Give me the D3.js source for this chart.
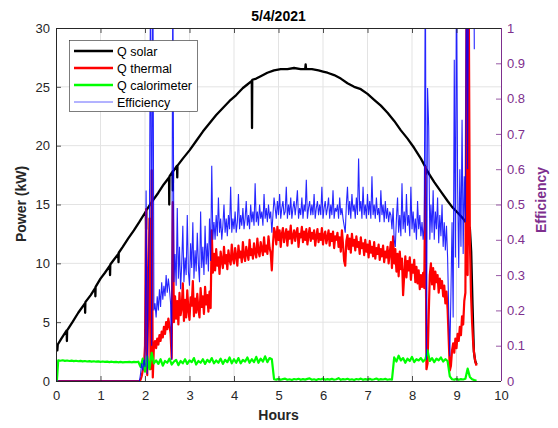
<!DOCTYPE html>
<html>
<head>
<meta charset="utf-8">
<script src="https://cdn.jsdelivr.net/npm/d3@7"></script>
<style>
  html, body { margin: 0; padding: 0; background: #fff; }
  svg { display: block; font-family: "Liberation Sans", Arial, Helvetica, sans-serif; }
</style>
</head>
<body>
<svg id="chart" width="558" height="428"></svg>
<script>
// ---- Data: logged on 5/4/2021 ----
const titleText = "5/4/2021";
const hourTicks = [0, 1, 2, 3, 4, 5, 6, 7, 8, 9, 10];
const powerTicks = [0, 5, 10, 15, 20, 25, 30];
const effTicks = [0, 0.1, 0.2, 0.3, 0.4, 0.5, 0.6, 0.7, 0.8, 0.9, 1];
const seriesNames = ["Q solar", "Q thermal", "Q calorimeter", "Efficiency"];

// Q solar (kW), hours / value pairs
const solarHours = [0, 0.03, 0.04, 0.12, 0.24, 0.245, 0.25, 0.37, 0.5, 0.65, 0.655, 0.66, 0.78, 0.88,
  0.885, 0.89, 1.0, 1.1, 1.21, 1.215, 1.22, 1.3, 1.4, 1.405, 1.41, 1.5, 1.62, 1.75, 1.87, 2.0, 2.02,
  2.025, 2.03, 2.15, 2.3, 2.42, 2.54, 2.545, 2.55, 2.62, 2.625, 2.63, 2.72, 2.725, 2.73, 2.85, 3.0,
  3.15, 3.3, 3.45, 3.6, 3.75, 3.9, 4.05, 4.2, 4.3, 4.4, 4.405, 4.41, 4.5, 4.6, 4.75, 4.9, 5.05, 5.2,
  5.35, 5.5, 5.6, 5.61, 5.62, 5.75, 5.9, 6.0, 6.1, 6.25, 6.4, 6.55, 6.7, 6.85, 7.0, 7.15, 7.3, 7.45,
  7.6, 7.75, 7.9, 8.05, 8.2, 8.3, 8.31, 8.32, 8.4, 8.5, 8.65, 8.8, 8.9, 9.0, 9.15, 9.3, 9.33, 9.36,
  9.39, 9.42, 9.45];
const solarKW = [3.0, 2.6, 3.1, 3.6, 4.3, 3.4, 4.3, 5.0, 5.8, 6.6, 5.8, 6.7, 7.3, 7.9,
  7.2, 8.0, 8.7, 9.2, 9.8, 9.0, 9.9, 10.3, 10.8, 10.1, 10.9, 11.4, 12.1, 12.8, 13.5, 14.3, 14.4,
  12.9, 14.5, 15.2, 16.0, 16.7, 17.3, 15.0, 17.4, 17.8, 16.2, 17.8, 18.3, 17.3, 18.3, 18.9, 19.6,
  20.4, 21.2, 21.9, 22.6, 23.2, 23.8, 24.3, 24.9, 25.2, 25.5, 21.5, 25.6, 25.7, 25.9, 26.2, 26.4, 26.5, 26.5,
  26.6, 26.5, 26.5, 26.9, 26.5, 26.5, 26.4, 26.3, 26.2, 26.0, 25.7, 25.3, 25.0, 24.8, 24.4, 23.9, 23.4, 22.8,
  22.1, 21.3, 20.6, 19.8, 18.9, 18.2, 17.6, 18.0, 17.5, 16.9, 16.1, 15.3, 14.8, 14.4, 13.8, 13.0, 11.0, 6.5,
  2.5, 1.7, 1.4];

// Fast-logged channels: samples every 0.025 h starting at 1.9 h
const fastStart = 1.9;
const fastStep = 0.025;

// Q thermal (kW): idle before 1.9 h, then sampled
const thermalLeadHours = [0, 1.875];
const thermalLeadKW = [0, 0];
const thermalKW = [
  0.1, 0.4, 0.9, 1.2,
  3.0, 14.6, 0.5, 7.5, 13.8, 1.0, 17.9, 0.3, 2.9,
  3.4, 2.8, 3.6, 3.1, 3.9, 3.4, 4.2, 3.7, 4.6, 4.0, 5.0, 4.4, 5.3, 4.7, 4.0,
  1.9, 15.2, 5.0,
  7.2, 5.3, 6.8, 4.8, 7.5, 5.6, 6.2, 8.3, 5.1, 6.9, 5.4, 7.7, 6.0, 5.2, 7.1, 6.4, 8.5, 5.5, 7.0, 5.8,
  7.4, 6.1, 5.4, 7.9, 6.3, 7.2, 5.7, 8.0, 6.5, 7.3, 5.9, 7.6, 6.2,
  12.8, 9.2,
  10.8, 9.4, 11.2, 9.8, 10.5, 9.1, 11.0, 10.2, 9.6, 11.4, 10.0, 10.7, 9.5, 11.1, 10.3, 9.9, 11.6, 10.4,
  10.0, 11.3, 10.6, 9.8, 11.5, 10.5, 11.0, 10.1, 11.8, 10.6, 10.2, 11.4, 10.8, 10.3, 12.0, 10.7, 11.2,
  10.4, 11.7, 10.9, 10.5, 12.1, 11.0, 10.6, 11.8, 11.2, 10.7, 12.2, 11.0, 11.5, 10.8, 12.3, 11.3, 10.9,
  9.4, 11.6, 13.0,
  12.6, 11.6, 13.1, 12.0, 12.8, 11.4, 12.5, 13.0, 11.8, 12.4, 12.9, 11.5, 12.7, 12.1, 13.2, 11.7, 12.3,
  12.8, 11.9, 12.6, 13.0, 11.4, 12.5, 12.2, 13.1, 11.8, 12.7, 12.0, 12.9, 11.6, 12.4, 13.0, 11.9, 12.6,
  12.1, 12.8, 11.5, 12.3, 12.9, 11.8, 12.5, 12.0, 13.0, 11.6, 12.4, 12.7, 11.7, 12.2, 12.8, 11.5, 12.5,
  11.9, 12.7, 11.3, 12.3, 12.0,
  12.6, 11.4, 12.2, 11.0, 12.8, 11.6, 10.2, 9.8, 11.9, 12.4, 11.2, 12.1, 10.9, 12.5, 11.5, 12.0, 11.1,
  12.3, 11.4, 11.8, 10.8, 12.2, 11.3, 11.7, 10.7, 12.0, 11.0, 11.6, 10.5, 11.9, 10.9, 11.4, 10.6, 11.8,
  10.4, 11.3, 10.8, 11.6, 10.3, 11.2, 10.6, 11.5, 10.1, 11.0, 10.5, 11.4, 10.0, 10.9,
  11.8, 9.6, 12.3, 10.0, 11.2, 9.3, 10.8, 8.9, 11.0, 9.5, 10.4, 7.3, 9.0, 10.6, 8.8, 10.2, 9.4, 10.5,
  8.6, 9.9, 9.2, 10.3, 8.4, 9.7, 8.3, 9.4, 7.8, 9.0, 8.0, 9.2, 7.9,
  18.2, 1.0, 1.5, 5.5, 9.0,
  10.0, 8.2, 9.6, 7.8, 9.3, 8.4, 9.0, 7.5, 8.7, 7.9, 8.5, 7.2, 8.1, 6.6, 7.6, 6.1,
  3.5, 0.9, 1.3, 2.6,
  3.2, 2.4, 3.6, 2.8, 4.0, 3.4, 4.6, 3.9, 5.5, 4.8, 6.8,
  7.5, 32, 9.0, 33, 12.0, 7.5, 5.0, 3.2, 2.2, 1.6, 1.3
];

// Efficiency (-): zero before 1.9 h, then sampled
const effLeadHours = [0, 0.01, 1.875];
const effLead = [0.06, 0, 0];
const efficiency = [
  0.02, 0.05, 0.03, 0.06,
  0.04, 0.54, 0.02, 0.30, 0.45, 1.2, 0.10, 1.3, 0.20,
  0.22, 0.18, 0.24, 0.20, 0.26, 0.21, 0.28, 0.23, 0.27, 0.24, 0.30, 0.25, 0.29, 0.26, 0.22,
  0.06, 1.2, 0.28,
  0.36, 0.27, 0.49, 0.29, 0.38, 0.26, 0.33, 0.44, 0.28, 0.35, 0.30, 0.47, 0.31, 0.27, 0.39, 0.32, 0.45,
  0.29, 0.37, 0.31, 0.42, 0.33, 0.28, 0.48, 0.32, 0.38, 0.30, 0.44, 0.33, 0.39, 0.31, 0.46, 0.34,
  0.61, 0.40,
  0.45, 0.40, 0.47, 0.41, 0.52, 0.42, 0.46, 0.40, 0.44, 0.50, 0.42, 0.46, 0.41, 0.47, 0.43, 0.55, 0.42,
  0.46, 0.43, 0.48, 0.42, 0.45, 0.53, 0.43, 0.47, 0.44, 0.49, 0.43, 0.46, 0.51, 0.44, 0.47, 0.43, 0.50,
  0.45, 0.48, 0.44, 0.56, 0.45, 0.48, 0.44, 0.50, 0.46, 0.48, 0.44, 0.53, 0.46, 0.49, 0.45, 0.50, 0.46, 0.48,
  0.42, 0.47, 0.52,
  0.49, 0.46, 0.51, 0.47, 0.53, 0.46, 0.49, 0.51, 0.47, 0.48, 0.55, 0.46, 0.50, 0.47, 0.52, 0.46, 0.49,
  0.51, 0.47, 0.50, 0.54, 0.46, 0.49, 0.47, 0.52, 0.46, 0.50, 0.48, 0.57, 0.46, 0.49, 0.51, 0.47, 0.50,
  0.47, 0.53, 0.46, 0.49, 0.51, 0.47, 0.50, 0.47, 0.55, 0.46, 0.49, 0.51, 0.47, 0.49, 0.52, 0.46, 0.50,
  0.47, 0.54, 0.46, 0.49, 0.48,
  0.50, 0.46, 0.52, 0.47, 0.49, 0.46, 0.44, 0.42, 0.50, 0.55, 0.47, 0.51, 0.46, 0.53, 0.48, 0.50, 0.46,
  0.52, 0.47, 0.63, 0.48, 0.51, 0.46, 0.55, 0.47, 0.50, 0.46, 0.53, 0.47, 0.51, 0.46, 0.58, 0.47, 0.50,
  0.46, 0.52, 0.47, 0.49, 0.45, 0.54, 0.47, 0.50, 0.45, 0.51, 0.46, 0.49, 0.45, 0.48,
  0.47, 0.43, 0.49, 0.40, 0.38, 0.46, 0.52, 0.42, 0.47, 0.41, 0.56, 0.43, 0.48, 0.42, 0.53, 0.44, 0.47,
  0.41, 0.55, 0.43, 0.48, 0.42, 0.46, 0.40, 0.51, 0.43, 0.47, 0.41, 0.45, 0.40, 0.44,
  1.2, 0.06, 0.83, 0.72, 0.40,
  0.50, 0.42, 0.54, 0.40, 0.48, 0.43, 0.52, 0.39, 0.47, 0.41, 0.50, 0.38, 0.45, 0.37, 0.44, 0.35,
  0.20, 0.07, 0.25, 0.45,
  0.18, 0.91, 0.35, 1.2, 0.55, 0.32, 0.60, 0.38, 0.74, 0.36, 0.58,
  0.45, 1.3, 0.6, 1.3, 1.4, 1.5, 1.3, 1.6, 0.94
];

// Q calorimeter (kW): samples every 0.05 h starting at 0.05 h
const caloLeadHours = [0, 0.02];
const caloLeadKW = [0, 0];
const caloStart = 0.05;
const caloStep = 0.05;
const caloKW = [
  1.75, 1.72, 1.76, 1.71, 1.74, 1.70, 1.73, 1.69, 1.72, 1.68, 1.71, 1.67, 1.70, 1.66, 1.69, 1.65, 1.68,
  1.64, 1.67, 1.63, 1.66, 1.62, 1.65, 1.61, 1.64, 1.60, 1.63, 1.59, 1.62, 1.58, 1.61, 1.60, 1.63, 1.59,
  1.62, 1.60, 1.64,
  1.2, 1.9, 0.8, 2.1, 1.0, 2.4, 1.5,
  1.75, 1.45, 1.85, 1.30, 1.70, 1.55, 1.90, 1.40, 1.65, 1.80, 1.35, 1.70, 1.50, 1.85, 1.45, 1.75, 1.60,
  1.95, 1.40, 1.70, 1.55, 1.85, 1.45, 1.80, 1.60, 1.95, 1.50, 1.75, 1.55, 1.90, 1.45, 1.80, 1.60, 2.00,
  1.50, 1.85, 1.55, 1.95, 1.50, 1.80, 1.65, 2.00, 1.55, 1.85, 1.60, 2.05, 1.55, 1.90, 1.65, 2.10, 1.60, 1.95,
  1.85, 0.15,
  0.12, 0.18, 0.10, 0.16, 0.20, 0.11, 0.15, 0.09, 0.17, 0.13, 0.19, 0.10, 0.16, 0.12, 0.18, 0.22, 0.11,
  0.15, 0.09, 0.17, 0.13, 0.20, 0.10, 0.16, 0.12, 0.18, 0.11, 0.15, 0.24, 0.10, 0.16, 0.13, 0.19, 0.11,
  0.15, 0.09, 0.17, 0.13, 0.20, 0.10, 0.16, 0.12, 0.18, 0.11, 0.15, 0.21, 0.10, 0.16, 0.13, 0.18, 0.11,
  0.15, 0.12,
  2.00, 1.65, 2.15, 1.75, 1.95, 1.55, 1.90, 1.70, 2.05, 1.60, 1.85, 1.75, 1.95, 1.65, 1.85, 2.60, 1.70,
  1.95, 1.60, 1.90, 1.75, 2.00, 1.65, 1.85, 1.70,
  0.4, 0.15,
  0.12, 0.18, 0.10, 0.16, 0.13, 0.19, 1.05, 0.35, 0.15, 0.08, 0.02
];

// ---- Layout ----
const W = 558, H = 428;
const plot = { left: 56, right: 501, top: 28, bottom: 381 };
const axisColor = "#262626";
const rightColor = "#7E2F8E";
const gridColor = "#e3e3e3";

const svg = d3.select("#chart");

const x = d3.scaleLinear().domain([0, 10]).range([plot.left, plot.right]);
const yL = d3.scaleLinear().domain([0, 30]).range([plot.bottom, plot.top]);
const yR = d3.scaleLinear().domain([0, 1]).range([plot.bottom, plot.top]);

// assemble [hour, value] samples
const pairs = (hours, vals) => hours.map((h, i) => [h, vals[i]]);
const sampled = (start, step, vals) => vals.map((v, i) => [start + i * step, v]);

const solarPts = pairs(solarHours, solarKW);
const thermalPts = pairs(thermalLeadHours, thermalLeadKW).concat(sampled(fastStart, fastStep, thermalKW));
const effPts = pairs(effLeadHours, effLead).concat(sampled(fastStart, fastStep, efficiency));
const caloPts = pairs(caloLeadHours, caloLeadKW).concat(sampled(caloStart, caloStep, caloKW));

// background
svg.append("rect").attr("width", W).attr("height", H).attr("fill", "#fff");

// grid
const grid = svg.append("g");
grid.selectAll("line.gx").data(hourTicks.slice(1, -1)).join("line")
  .attr("x1", d => x(d)).attr("x2", d => x(d))
  .attr("y1", plot.top).attr("y2", plot.bottom)
  .attr("stroke", gridColor).attr("stroke-width", 1);
grid.selectAll("line.gy").data(powerTicks.slice(1, -1)).join("line")
  .attr("x1", plot.left).attr("x2", plot.right)
  .attr("y1", d => yL(d)).attr("y2", d => yL(d))
  .attr("stroke", gridColor).attr("stroke-width", 1);

// clipping for data lines
svg.append("clipPath").attr("id", "plotClip").append("rect")
  .attr("x", plot.left).attr("y", plot.top)
  .attr("width", plot.right - plot.left).attr("height", plot.bottom - plot.top);

const lineL = d3.line().x(d => x(d[0])).y(d => yL(d[1]));
const lineR = d3.line().x(d => x(d[0])).y(d => yR(d[1]));

const data = svg.append("g").attr("clip-path", "url(#plotClip)");
data.append("path").datum(solarPts).attr("d", lineL)
  .attr("fill", "none").attr("stroke", "#000").attr("stroke-width", 2.3).attr("stroke-linejoin", "round");
data.append("path").datum(thermalPts).attr("d", lineL)
  .attr("fill", "none").attr("stroke", "#ff0000").attr("stroke-width", 2.2).attr("stroke-linejoin", "round");
data.append("path").datum(caloPts).attr("d", lineL)
  .attr("fill", "none").attr("stroke", "#00ff00").attr("stroke-width", 2.2).attr("stroke-linejoin", "round");
data.append("path").datum(effPts).attr("d", lineR)
  .attr("fill", "none").attr("stroke", "#0000ff").attr("stroke-opacity", 0.85).attr("stroke-width", 1.1);

// axes
const fontSize = 13;
const styleAxis = (g, color) => {
  g.select(".domain").remove();
  g.selectAll(".tick line").attr("stroke", color).attr("stroke-width", 0.8);
  g.selectAll(".tick text").attr("fill", color).attr("font-size", fontSize)
    .attr("font-family", "'Liberation Sans', Arial, Helvetica, sans-serif");
};

svg.append("g").attr("transform", `translate(0,${plot.bottom})`)
  .call(d3.axisBottom(x).tickValues(hourTicks).tickSize(-5).tickPadding(10).tickFormat(d3.format("d")))
  .call(g => styleAxis(g, axisColor));
svg.append("g").attr("transform", `translate(0,${plot.top})`)
  .call(d3.axisTop(x).tickValues(hourTicks).tickSize(-5).tickFormat(""))
  .call(g => styleAxis(g, axisColor));
svg.append("g").attr("transform", `translate(${plot.left},0)`)
  .call(d3.axisLeft(yL).tickValues(powerTicks).tickSize(-5).tickPadding(6).tickFormat(d3.format("d")))
  .call(g => styleAxis(g, axisColor));
svg.append("g").attr("transform", `translate(${plot.right},0)`)
  .call(d3.axisRight(yR).tickValues(effTicks).tickSize(-5).tickPadding(6).tickFormat(d => d === 0 || d === 1 ? String(d) : d.toFixed(1)))
  .call(g => styleAxis(g, rightColor));

// box
const box = svg.append("g").attr("stroke-width", 1).attr("shape-rendering", "crispEdges");
box.append("line").attr("x1", plot.left).attr("x2", plot.right).attr("y1", plot.bottom).attr("y2", plot.bottom).attr("stroke", axisColor);
box.append("line").attr("x1", plot.left).attr("x2", plot.right).attr("y1", plot.top).attr("y2", plot.top).attr("stroke", axisColor);
box.append("line").attr("x1", plot.left).attr("x2", plot.left).attr("y1", plot.top).attr("y2", plot.bottom).attr("stroke", axisColor);
box.append("line").attr("x1", plot.right).attr("x2", plot.right).attr("y1", plot.top).attr("y2", plot.bottom).attr("stroke", rightColor);

// title and axis labels
svg.append("text").attr("x", (plot.left + plot.right) / 2).attr("y", 21)
  .attr("text-anchor", "middle").attr("font-weight", "bold").attr("font-size", 14)
  .attr("fill", "#000").text(titleText);
svg.append("text").attr("x", (plot.left + plot.right) / 2).attr("y", 420)
  .attr("text-anchor", "middle").attr("font-weight", "bold").attr("font-size", 14)
  .attr("fill", axisColor).text("Hours");
svg.append("text").attr("transform", "translate(26,204) rotate(-90)")
  .attr("text-anchor", "middle").attr("font-weight", "bold").attr("font-size", 14)
  .attr("fill", axisColor).text("Power (kW)");
svg.append("text").attr("transform", "translate(546,200) rotate(-90)")
  .attr("text-anchor", "middle").attr("font-weight", "bold").attr("font-size", 14)
  .attr("fill", rightColor).text("Efficiency");

// legend
const legendStyles = [
  { color: "#000", width: 2.5, opacity: 1 },
  { color: "#ff0000", width: 2.5, opacity: 1 },
  { color: "#00ff00", width: 2.5, opacity: 1 },
  { color: "#0000ff", width: 1, opacity: 0.6 }
];
const legend = svg.append("g");
legend.append("rect").attr("x", 69.5).attr("y", 40.5).attr("width", 128).attr("height", 71)
  .attr("fill", "#fff").attr("stroke", axisColor).attr("stroke-width", 0.6);
const rows = legend.selectAll("g.row").data(seriesNames).join("g")
  .attr("transform", (d, i) => `translate(0,${51 + i * 17})`);
rows.append("line").attr("x1", 74).attr("x2", 113).attr("y1", 0).attr("y2", 0)
  .attr("stroke", (d, i) => legendStyles[i].color)
  .attr("stroke-width", (d, i) => legendStyles[i].width)
  .attr("stroke-opacity", (d, i) => legendStyles[i].opacity);
rows.append("text").attr("x", 117).attr("y", 4.5).attr("font-size", 12.5)
  .attr("fill", "#000").text(d => d);
</script>
</body>
</html>
